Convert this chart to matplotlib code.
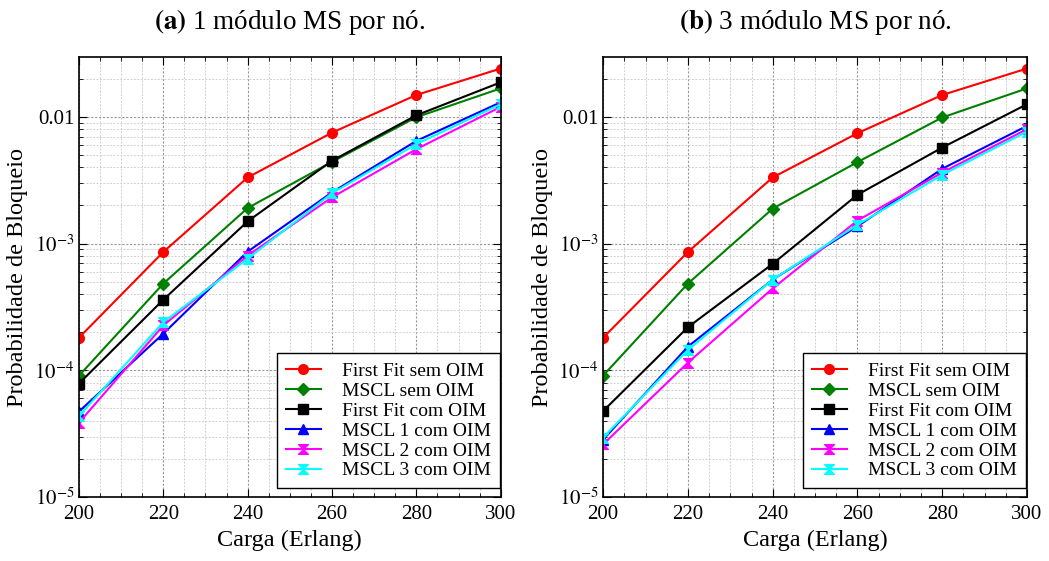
import numpy as np
import matplotlib
matplotlib.use('Agg')
import matplotlib.pyplot as plt
from matplotlib.path import Path
from matplotlib.ticker import FixedLocator, MultipleLocator, LogLocator, NullFormatter

plt.rcParams['font.family'] = ['Liberation Serif', 'DejaVu Serif']
plt.rcParams['mathtext.fontset'] = 'stix'

#-------------------------------------------------------------------------------
carga = [200, 220, 240, 260, 280, 300]

# (a) 1 modulo MS por no
ff_sem_a    = [1.81e-4, 8.6e-4, 3.33e-3, 7.52e-3, 1.49e-2, 2.41e-2]
mscl_sem_a  = [9.07e-5, 4.84e-4, 1.91e-3, 4.42e-3, 9.95e-3, 1.68e-2]
ff_com_a    = [7.87e-5, 3.61e-4, 1.50e-3, 4.51e-3, 1.03e-2, 1.875e-2]
mscl1_a     = [4.73e-5, 1.95e-4, 8.65e-4, 2.54e-3, 6.47e-3, 1.305e-2]
mscl2_a     = [3.87e-5, 2.26e-4, 8.05e-4, 2.32e-3, 5.57e-3, 1.20e-2]
mscl3_a     = [4.36e-5, 2.40e-4, 7.60e-4, 2.50e-3, 6.10e-3, 1.26e-2]

# (b) 3 modulo MS por no
ff_sem_b    = [1.81e-4, 8.6e-4, 3.33e-3, 7.44e-3, 1.49e-2, 2.41e-2]
mscl_sem_b  = [9.1e-5, 4.84e-4, 1.89e-3, 4.40e-3, 9.9e-3, 1.68e-2]
ff_com_b    = [4.78e-5, 2.19e-4, 6.93e-4, 2.43e-3, 5.73e-3, 1.26e-2]
mscl1_b     = [2.84e-5, 1.54e-4, 5.20e-4, 1.37e-3, 3.90e-3, 8.5e-3]
mscl2_b     = [2.61e-5, 1.15e-4, 4.43e-4, 1.52e-3, 3.64e-3, 8.0e-3]
mscl3_b     = [2.95e-5, 1.45e-4, 5.20e-4, 1.41e-3, 3.49e-3, 7.66e-3]

labels = ['First Fit sem OIM', 'MSCL sem OIM', 'First Fit com OIM',
          'MSCL 1 com OIM', 'MSCL 2 com OIM', 'MSCL 3 com OIM']
titles = [r'$\mathbf{(a)}$ 1 módulo MS por nó.', r'$\mathbf{(b)}$ 3 módulo MS por nó.']
#-------------------------------------------------------------------------------
hourglass = Path([(-1, 1), (1, 1), (-1, -1), (1, -1), (-1, 1)],
                 [Path.MOVETO, Path.LINETO, Path.LINETO, Path.LINETO, Path.CLOSEPOLY])
colors = ['red', 'green', 'black', 'blue', 'magenta', 'cyan']
markers = ['o', 'D', 's', '^', hourglass, hourglass]
msizes = [7, 6.5, 7, 7, 7, 7]

fig = plt.figure(figsize=(10.49, 5.61), dpi=100)
ax_a = fig.add_axes([0.0753, 0.114, 0.402, 0.784])
ax_b = fig.add_axes([0.575, 0.114, 0.404, 0.784])

data = [[ff_sem_a, mscl_sem_a, ff_com_a, mscl1_a, mscl2_a, mscl3_a],
        [ff_sem_b, mscl_sem_b, ff_com_b, mscl1_b, mscl2_b, mscl3_b]]

for ax, series, title in zip([ax_a, ax_b], data, titles):
    for y, c, m, ms, lab in zip(series, colors, markers, msizes, labels):
        ax.plot(carga, y, '-', color=c, marker=m, markersize=ms, linewidth=1.5, label=lab)
    ax.set_yscale('log')
    ax.set_xlim(200, 300)
    ax.set_ylim(1e-5, 0.0296)
    ax.xaxis.set_major_locator(MultipleLocator(20))
    ax.xaxis.set_minor_locator(MultipleLocator(5))
    ax.yaxis.set_major_locator(FixedLocator([1e-5, 1e-4, 1e-3, 1e-2]))
    ax.set_yticklabels([r'$10^{-5}$', r'$10^{-4}$', r'$10^{-3}$', '0.01'])
    ax.yaxis.set_minor_locator(LogLocator(base=10, subs=np.arange(2, 10), numticks=20))
    ax.yaxis.set_minor_formatter(NullFormatter())
    ax.tick_params(which='both', direction='in', top=True, right=True, labelsize=15)
    ax.tick_params(which='major', length=6)
    ax.tick_params(which='minor', length=3)
    ax.tick_params(axis='x', pad=6)
    ax.grid(which='major', linestyle=(0, (2, 1.5)), color='#999999', linewidth=0.8)
    ax.grid(which='minor', linestyle=(0, (2, 1.5)), color='#d0d0d0', linewidth=0.7)
    ax.set_xlabel('Carga (Erlang)', fontsize=17.5, labelpad=4)
    ax.set_ylabel('Probabilidade de Bloqueio', fontsize=17.5, labelpad=4)
    ax.set_title(title, fontsize=19.5, pad=20)
    for s in ax.spines.values():
        s.set_linewidth(1.2)
    leg = ax.legend(loc='lower right', bbox_to_anchor=(0.998, 0.02), fontsize=14,
                    handlelength=1.8, fancybox=False, framealpha=1, edgecolor='black',
                    borderaxespad=0.0, labelspacing=0.12, handletextpad=1.1,
                    borderpad=0.45)
    leg.get_frame().set_linewidth(1.0)

fig.savefig('out.png', dpi=100)
